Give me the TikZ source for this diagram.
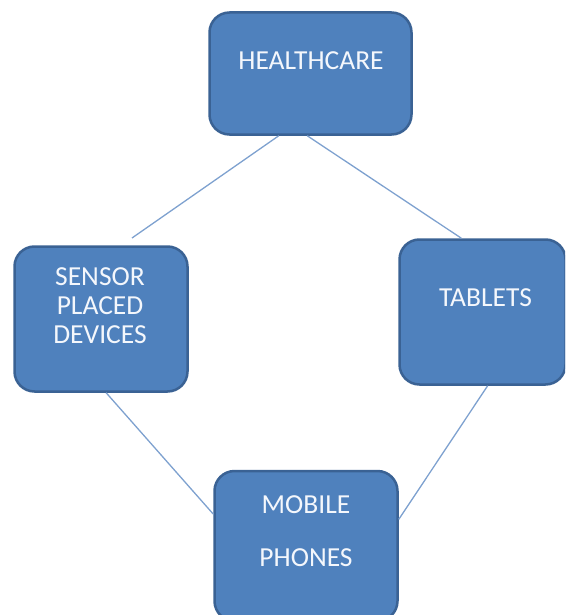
\documentclass[tikz,border=0pt]{standalone}
\usepackage{fontspec}
\setmainfont{Carlito}
\definecolor{boxfill}{HTML}{4F81BD}
\definecolor{boxline}{HTML}{3A6294}
\definecolor{linkcol}{HTML}{7EA1CF}
\definecolor{txtcol}{HTML}{F4F7FC}

\begin{document}
\begin{tikzpicture}[x=1pt,y=-1pt,
		box/.style={draw=boxline, line width=2.5pt, fill=boxfill, rounded corners=20pt},
		lbl/.style={text=txtcol, font=\fontsize{27.5}{29}\selectfont, align=center, inner sep=0pt},
		link/.style={draw=linkcol, line width=1.3pt}]
		\path[use as bounding box, clip] (0,0) rectangle (565,615);
		% boxes
		\node[box, minimum width=202pt, minimum height=122pt] (hc) at (310.5,73.5) {};
		\node[box, minimum width=173pt, minimum height=145pt] (sensor) at (101,319) {};
		\node[box, minimum width=166pt, minimum height=145pt] (tab) at (482.5,312) {};
		\node[box, minimum width=183pt, minimum height=150pt] (mob) at (306,546) {};
		% texts
		\node[lbl] (hctxt) at (311,61) {HEALTHCARE};
		\node[lbl] (sensortxt) at (100,306) {SENSOR\\PLACED\\DEVICES};
		\node[lbl] (tabtxt) at (485.5,298) {TABLETS};
		\node[lbl] (mobtxt) at (306,531) {MOBILE\\[24pt]PHONES};
		% links
		\coordinate (sfree) at (132,238);
		\draw[link] (hc.-117.5) -- (sfree);
		\draw[link] (hc.-93) -- (tab.106);
		\draw[link] (sensor.-86) -- (mob.161);
		\draw[link] (tab.-86) -- (mob.16);
	\end{tikzpicture}
\end{document}
